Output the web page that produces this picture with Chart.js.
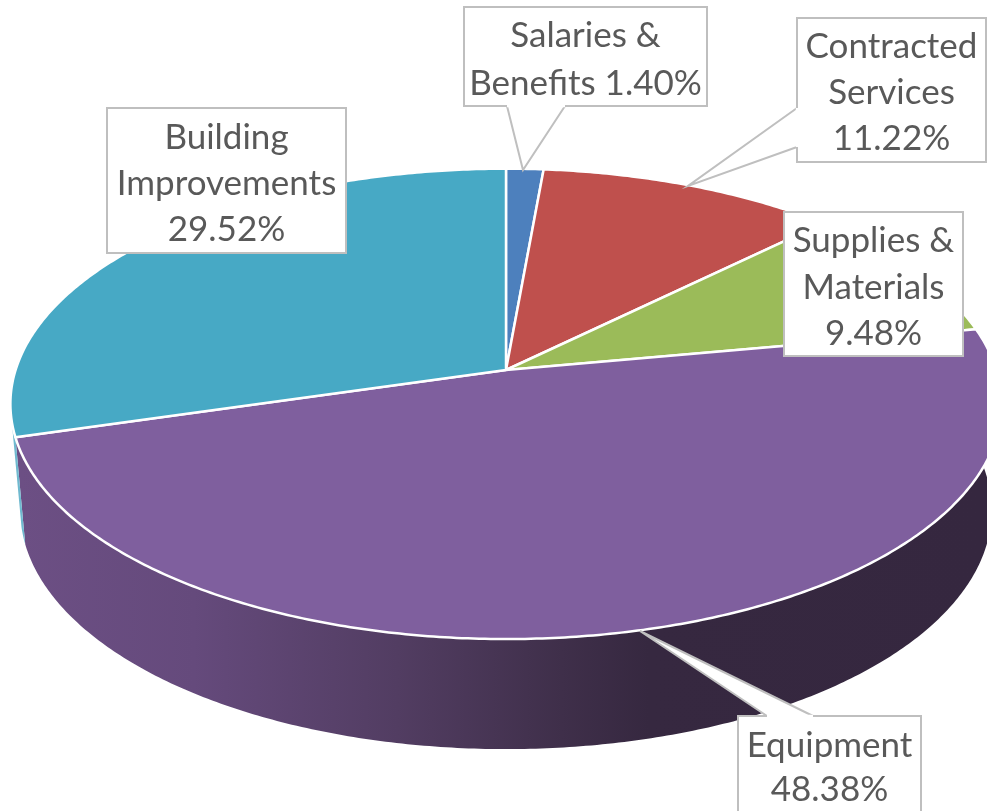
<!DOCTYPE html>
<html>
<head>
<meta charset="utf-8">
<style>html,body{margin:0;padding:0;background:#fff;overflow:hidden}canvas{display:block}</style>
<script src="https://cdn.jsdelivr.net/npm/chart.js@4"></script>
</head>
<body>
<canvas id="c" width="987" height="811"></canvas>
<script>
const categories = ["Salaries & Benefits", "Contracted Services", "Supplies & Materials", "Equipment", "Building Improvements"];
const percentValues = [1.40, 11.22, 9.48, 48.38, 29.52];
const sliceColors = ["#4d80bd", "#bf504d", "#9bbb59", "#7f5f9e", "#47a9c5"];
const wallColors = [null, null, null, "equipment", "#6fb9cf"];
const labelLines = [
  ["Salaries &", "Benefits 1.40%"],
  ["Contracted", "Services", "11.22%"],
  ["Supplies &", "Materials", "9.48%"],
  ["Equipment", "48.38%"],
  ["Building", "Improvements", "29.52%"]
];
// label box: x0,y0,x1,y1; first line centre; callout tail polygon
const labelBoxes = [
  {b:[464,7,707,106], y:36, gap:48, tail:[[565,106],[523,170],[507,106]]},
  {b:[797,18,986,162], y:47, gap:46, tail:[[797,147],[688,186],[797,108]]},
  {b:[784,212,963,356], y:241, gap:46.5},
  {b:[738,716,921,830], y:746, gap:44, tail:[[767,716],[640,631],[813,716]]},
  {b:[107,108,346,253], y:138, gap:46}
];

const SX = 1.33, SY = 0.6246, PK = -0.144;   // perspective of the pie plane
const DROP = 106, LOW_X = 0.98, LOW_Y = 1.015; // lower rim of the extruded side
function project(el, a, lower) {
  const r = el.outerRadius, u = Math.cos(a), v = Math.sin(a), w = 1 + PK * v;
  const X = r * SX * u / w, Y = r * SY * v / w;
  return lower ? [el.x + X * LOW_X, el.y + Y * LOW_Y + DROP] : [el.x + X, el.y + Y];
}
function rimAngles(a0, a1) {
  const n = Math.max(2, Math.ceil((a1 - a0) / 0.01)), out = [];
  for (let i = 0; i <= n; i++) out.push(a0 + (a1 - a0) * i / n);
  return out;
}
// slices keep the library's angles and colours; only the outline is projected
Chart.ArcElement.prototype.draw = function (ctx) {
  const o = this.options;
  ctx.save();
  ctx.beginPath();
  ctx.moveTo(this.x, this.y);
  rimAngles(this.startAngle, this.endAngle).forEach(a => { const p = project(this, a); ctx.lineTo(p[0], p[1]); });
  ctx.closePath();
  ctx.fillStyle = o.backgroundColor;
  ctx.fill();
  ctx.lineJoin = "round";
  ctx.lineWidth = o.borderWidth;
  ctx.strokeStyle = o.borderColor;
  ctx.stroke();
  ctx.restore();
};

const walls = {
  id: "walls",
  beforeDatasetsDraw(chart) {
    const ctx = chart.ctx, arcs = chart.getDatasetMeta(0).data;
    arcs.forEach((el, i) => {
      if (!wallColors[i]) return;
      let a0 = el.startAngle, a1 = el.endAngle;
      if (i === 4) a1 = a0 + 0.07;
      const ang = rimAngles(a0, a1);
      ctx.save();
      ctx.beginPath();
      ang.forEach((a, k) => { const p = project(el, a); k ? ctx.lineTo(p[0], p[1]) : ctx.moveTo(p[0], p[1]); });
      ang.slice().reverse().forEach(a => { const p = project(el, a, true); ctx.lineTo(p[0], p[1]); });
      ctx.closePath();
      if (wallColors[i] === "equipment") {
        const g = ctx.createLinearGradient(20, 0, 987, 0);
        g.addColorStop(0, "#6c4f84");
        g.addColorStop(0.18, "#654a7c");
        g.addColorStop(0.39, "#523d62");
        g.addColorStop(0.56, "#3f2f4a");
        g.addColorStop(0.65, "#362840");
        g.addColorStop(1, "#35273f");
        ctx.fillStyle = g;
      } else {
        ctx.fillStyle = wallColors[i];
      }
      ctx.fill();
      ctx.restore();
    });
  }
};

const labels3d = {
  id: "labels3d",
  afterDatasetsDraw(chart) {
    const ctx = chart.ctx;
    ctx.save();
    ctx.font = "35px Lato, 'Open Sans', sans-serif";
    ctx.textAlign = "center";
    ctx.textBaseline = "middle";
    labelBoxes.forEach((box, i) => {
      const [x0, y0, x1, y1] = box.b;
      ctx.beginPath();
      ctx.rect(x0, y0, x1 - x0, y1 - y0);
      ctx.fillStyle = "#fff";
      ctx.fill();
      ctx.strokeStyle = "#bfbfbf";
      ctx.lineWidth = 2;
      ctx.stroke();
      if (box.tail) {
        ctx.beginPath();
        box.tail.forEach((p, k) => k ? ctx.lineTo(p[0], p[1]) : ctx.moveTo(p[0], p[1]));
        ctx.fillStyle = "#fff";
        ctx.fill();
        ctx.stroke();
        // open the box edge where the tail joins it
        const a = box.tail[0], b = box.tail[2];
        ctx.beginPath();
        ctx.moveTo(a[0], a[1]);
        ctx.lineTo(b[0], b[1]);
        ctx.strokeStyle = "#fff";
        ctx.lineWidth = 2.4;
        ctx.stroke();
        ctx.strokeStyle = "#bfbfbf";
        ctx.lineWidth = 2;
      }
      ctx.fillStyle = "#595959";
      labelLines[i].forEach((t, k) => ctx.fillText(t, (x0 + x1) / 2, box.y + k * box.gap));
    });
    ctx.restore();
  }
};

new Chart(document.getElementById("c"), {
  type: "pie",
  data: {
    labels: categories,
    datasets: [{
      data: percentValues,
      backgroundColor: sliceColors,
      borderColor: "#ffffff",
      borderWidth: 2.5
    }]
  },
  options: {
    responsive: false,
    animation: false,
    layout: { padding: { left: 25, right: 0, top: 0, bottom: 71 } },
    plugins: { legend: { display: false }, tooltip: { enabled: false } }
  },
  plugins: [walls, labels3d]
});
</script>
</body>
</html>
